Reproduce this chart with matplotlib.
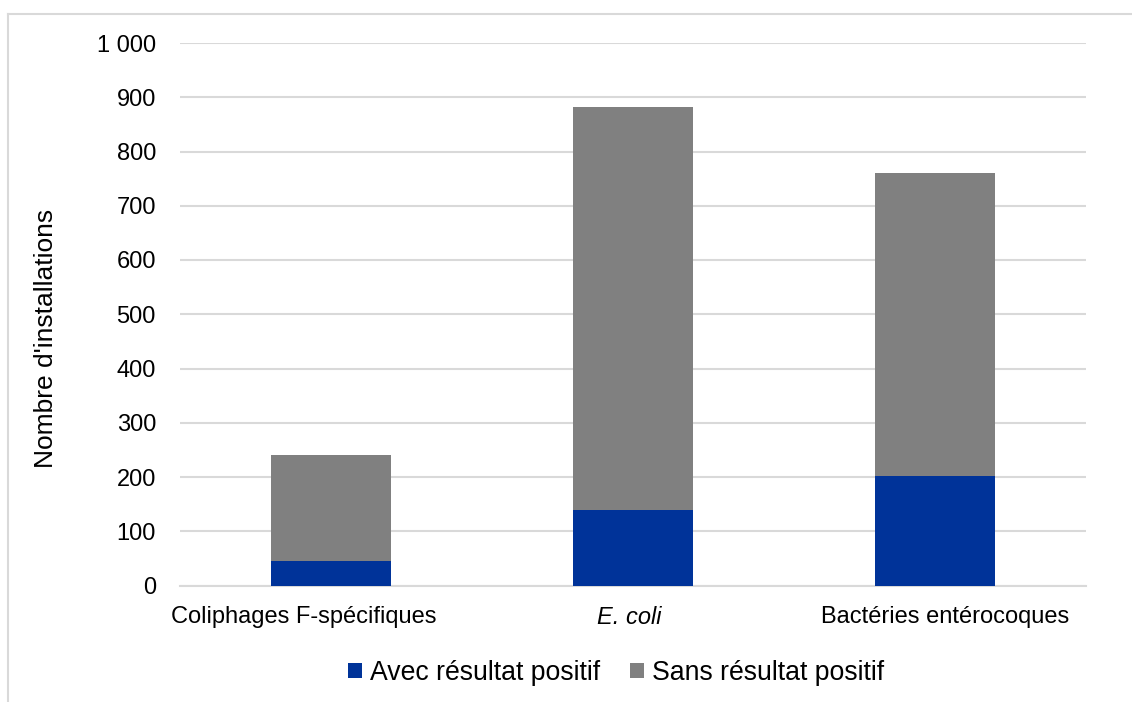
import matplotlib
matplotlib.use("Agg")
import matplotlib.pyplot as plt
import matplotlib.transforms as mtransforms
from matplotlib.ticker import FuncFormatter, MultipleLocator
from matplotlib.lines import Line2D
from matplotlib.patches import Patch

plt.rcParams['font.family'] = ['Liberation Sans', 'DejaVu Sans']

categories = ["Coliphages F-spécifiques", "E. coli", "Bactéries entérocoques"]
avec_positif = [46, 140, 202]
sans_positif = [195, 742, 559]
series_labels = ["Avec résultat positif", "Sans résultat positif"]
colors = ["#003399", "#808080"]

W, H = 1132, 702
DPI = 100
fig = plt.figure(figsize=(W / DPI, H / DPI), dpi=DPI)

# outer frame (only top and left edges fall inside the image)
fig.add_artist(Line2D([8 / W, 1.0], [1 - 14 / H, 1 - 14 / H], color="#d9d9d9", lw=1.5,
                      transform=fig.transFigure))
fig.add_artist(Line2D([8 / W, 8 / W], [0, 1 - 14 / H], color="#d9d9d9", lw=1.5,
                      transform=fig.transFigure))

left, right = 180 / W, 1086 / W
bottom, top = (H - 585.5) / H, (H - 43) / H
ax = fig.add_axes([left, bottom, right - left, top - bottom])

x = range(len(categories))
ax.bar(x, avec_positif, width=0.4, color=colors[0], zorder=3)
ax.bar(x, sans_positif, width=0.4, bottom=avec_positif, color=colors[1], zorder=3)

ax.set_xlim(-0.5, len(categories) - 0.5)
ax.set_ylim(0, 1000)
ax.yaxis.set_major_locator(MultipleLocator(100))
ax.yaxis.set_major_formatter(FuncFormatter(lambda v, p: f"{int(v):,}".replace(",", " ")))
ax.grid(axis="y", color="#d9d9d9", lw=1.5, zorder=0)
ax.set_axisbelow(True)
for s in ["top", "right", "left"]:
    ax.spines[s].set_visible(False)
ax.spines["bottom"].set_color("#d9d9d9")
ax.spines["bottom"].set_linewidth(1.5)

ax.tick_params(axis="y", length=0, pad=17.3, labelsize=17, labelcolor="black")
ax.tick_params(axis="x", length=0, pad=15, labelsize=17, labelcolor="black")
ax.set_xticks(list(x))
ax.set_xticklabels(categories)
ax.get_xticklabels()[1].set_style("italic")

# nudge category labels sideways (pixels)
label_shift = [-27, -4, 10]
for lab, dx in zip(ax.get_xticklabels(), label_shift):
    lab.set_transform(lab.get_transform() +
                      mtransforms.ScaledTranslation(dx / DPI, 0, fig.dpi_scale_trans))

ax.set_ylabel("Nombre d'installations", fontsize=19, va="center")
ax.yaxis.set_label_coords((46 - 180) / 906, (585.5 - 338) / 542.5)

handles = [Patch(facecolor=c, label=l) for c, l in zip(colors, series_labels)]
fig.legend(handles=handles, loc="center", bbox_to_anchor=(616 / W, 1 - 673 / H),
           ncol=2, frameon=False, fontsize=19.2, handlelength=0.5, handleheight=0.5,
           handletextpad=0.3, columnspacing=1.15)

fig.savefig("out.png", dpi=DPI, facecolor="white")
